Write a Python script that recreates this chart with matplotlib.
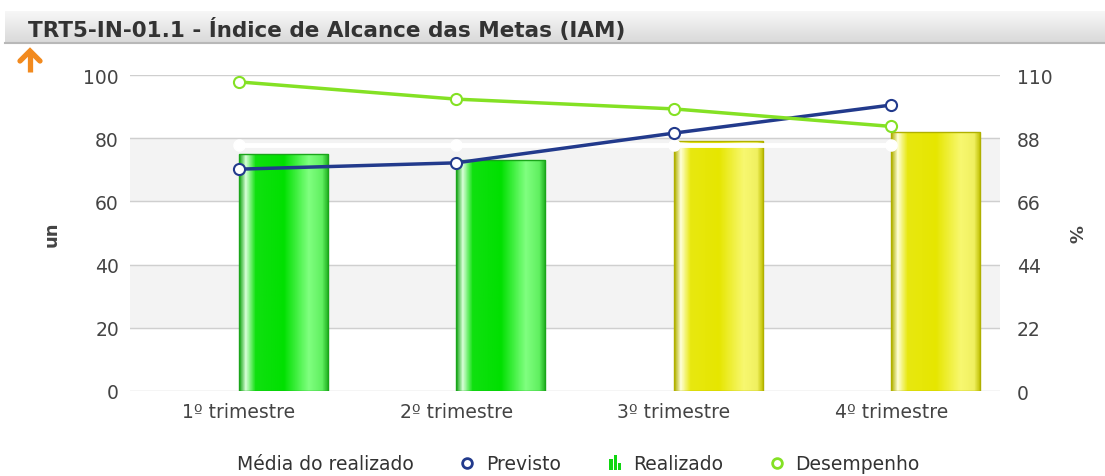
import matplotlib.pyplot as plt
import numpy as np
from matplotlib.colors import LinearSegmentedColormap
from matplotlib.patches import Rectangle
from matplotlib.lines import Line2D
from matplotlib.legend_handler import HandlerBase

categories = ['1º trimestre', '2º trimestre', '3º trimestre', '4º trimestre']
realizado = [75, 73, 79, 82]
previsto = [70.2, 72.2, 81.6, 90.5]
desempenho = [107.6, 101.6, 98.2, 92.1]
media = [78, 78, 78, 78]
bar_kind = ['green', 'green', 'yellow', 'yellow']

W, H = 1105, 477
fig = plt.figure(figsize=(W / 100, H / 100), dpi=100)
fig.patch.set_facecolor('white')

# title strip
tax = fig.add_axes([5 / W, 1 - 43 / H, 1 - 5 / W, 31 / H])
tax.imshow(np.linspace(0, 1, 50).reshape(-1, 1), cmap=LinearSegmentedColormap.from_list('t', ['#f7f7f7', '#dadada']),
           aspect='auto', extent=[0, 1, 0, 1])
tax.set_xlim(0, 1)
tax.set_ylim(0, 1)
tax.axis('off')
fig.text(28 / W, 1 - 29 / H, 'TRT5-IN-01.1 - Índice de Alcance das Metas (IAM)', fontsize=15.5, fontweight='bold',
         color='#333333', va='center', ha='left')
fig.add_artist(Line2D([5 / W, 1], [1 - 44 / H] * 2, color='#b8b8b8', lw=1.5))

# orange arrow
orange = '#f28a1e'
fig.add_artist(Line2D([30 / W, 30 / W], [1 - 73 / H, 1 - 53 / H], color=orange, lw=3.8, solid_capstyle='butt'))
fig.add_artist(Line2D([20 / W, 30 / W, 40 / W], [1 - 62 / H, 1 - 52 / H, 1 - 62 / H], color=orange, lw=3.8,
                      solid_joinstyle='miter', solid_capstyle='round'))

ax = fig.add_axes([130 / W, 85 / H, 870 / W, 316 / H])
x = np.arange(len(categories))

for lo, hi in [(20, 40), (60, 80)]:
    ax.axhspan(lo, hi, color='#f3f3f3', zorder=0)
for v in range(0, 101, 20):
    ax.axhline(v, color='#cfcfcf', lw=1, zorder=1)

grad = {
    'green': LinearSegmentedColormap.from_list('g', [(0, '#17a817'), (0.07, '#d8ffd8'), (0.18, '#10e010'),
                                                     (0.5, '#00e000'), (0.78, '#80ff80'), (0.93, '#60f060'),
                                                     (1, '#20b020')]),
    'yellow': LinearSegmentedColormap.from_list('y', [(0, '#b0b000'), (0.07, '#ffffd8'), (0.18, '#e8e810'),
                                                      (0.5, '#e6e600'), (0.78, '#f8f870'), (0.93, '#f0f060'),
                                                      (1, '#c0c000')]),
}
edge = {'green': '#1aa51a', 'yellow': '#b0b000'}
bw = 0.41
for xi, h, k in zip(x, realizado, bar_kind):
    rect = Rectangle((xi, 0), bw, h, facecolor='none', edgecolor=edge[k], lw=1, zorder=3)
    ax.add_patch(rect)
    im = ax.imshow(np.linspace(0, 1, 100).reshape(1, -1), cmap=grad[k], aspect='auto',
                   extent=[xi, xi + bw, 0, h], zorder=2)
    im.set_clip_path(rect)

ax.plot(x, media, color='white', lw=3.5, marker='o', ms=8, mfc='white', mec='white', zorder=4)
ax.plot(x, previsto, color='#223a8c', lw=2.5, marker='o', ms=8, mfc='white', mec='#223a8c', mew=1.5, zorder=5)

ax.set_xlim(-0.5, 3.5)
ax.set_ylim(0, 100)
ax.set_yticks(range(0, 101, 20))
ax.set_xticks(x)
ax.set_xticklabels(categories)
for s in ax.spines.values():
    s.set_visible(False)
ax.tick_params(axis='both', length=0, labelsize=13.5, colors='#444444', pad=8)
ax.set_ylabel('un', fontsize=13, fontweight='bold', color='#444444', labelpad=16)

ax2 = ax.twinx()
ax2.plot(x, desempenho, color='#84e124', lw=2.5, marker='o', ms=8, mfc='white', mec='#84e124', mew=1.5, zorder=6)
ax2.set_ylim(0, 110)
ax2.set_yticks(range(0, 111, 22))
for s in ax2.spines.values():
    s.set_visible(False)
ax2.tick_params(axis='y', length=0, labelsize=13.5, colors='#444444', pad=12)
ax2.set_ylabel('%', fontsize=13, fontweight='bold', color='#444444', rotation=270, labelpad=22)


class BarsHandler(HandlerBase):
    def create_artists(self, legend, orig, xd, yd, width, height, fontsize, trans):
        out = []
        hs = [0.7, 1.0, 0.45]
        for i, hh in enumerate(hs):
            r = Rectangle((xd + width * 0.28 + i * width * 0.18, yd), width * 0.14, height * 1.1 * hh,
                          facecolor='#11d611', edgecolor='none', transform=trans)
            out.append(r)
        return out


bar_handle = Rectangle((0, 0), 1, 1)
handles = [Line2D([], [], color='white', lw=2),
           Line2D([], [], color='none', marker='o', ms=7, mfc='white', mec='#223a8c', mew=2),
           bar_handle,
           Line2D([], [], color='none', marker='o', ms=7, mfc='white', mec='#84e124', mew=2)]
labels = ['Média do realizado', 'Previsto', 'Realizado', 'Desempenho']
fig.legend(handles, labels, loc='center', bbox_to_anchor=(563 / W, 12 / H), ncol=4, frameon=False,
           fontsize=13.5, labelcolor='#333333', handlelength=1.3, handletextpad=0.35, columnspacing=2.2,
           handler_map={bar_handle: BarsHandler()})

fig.savefig('out.png', dpi=100)
